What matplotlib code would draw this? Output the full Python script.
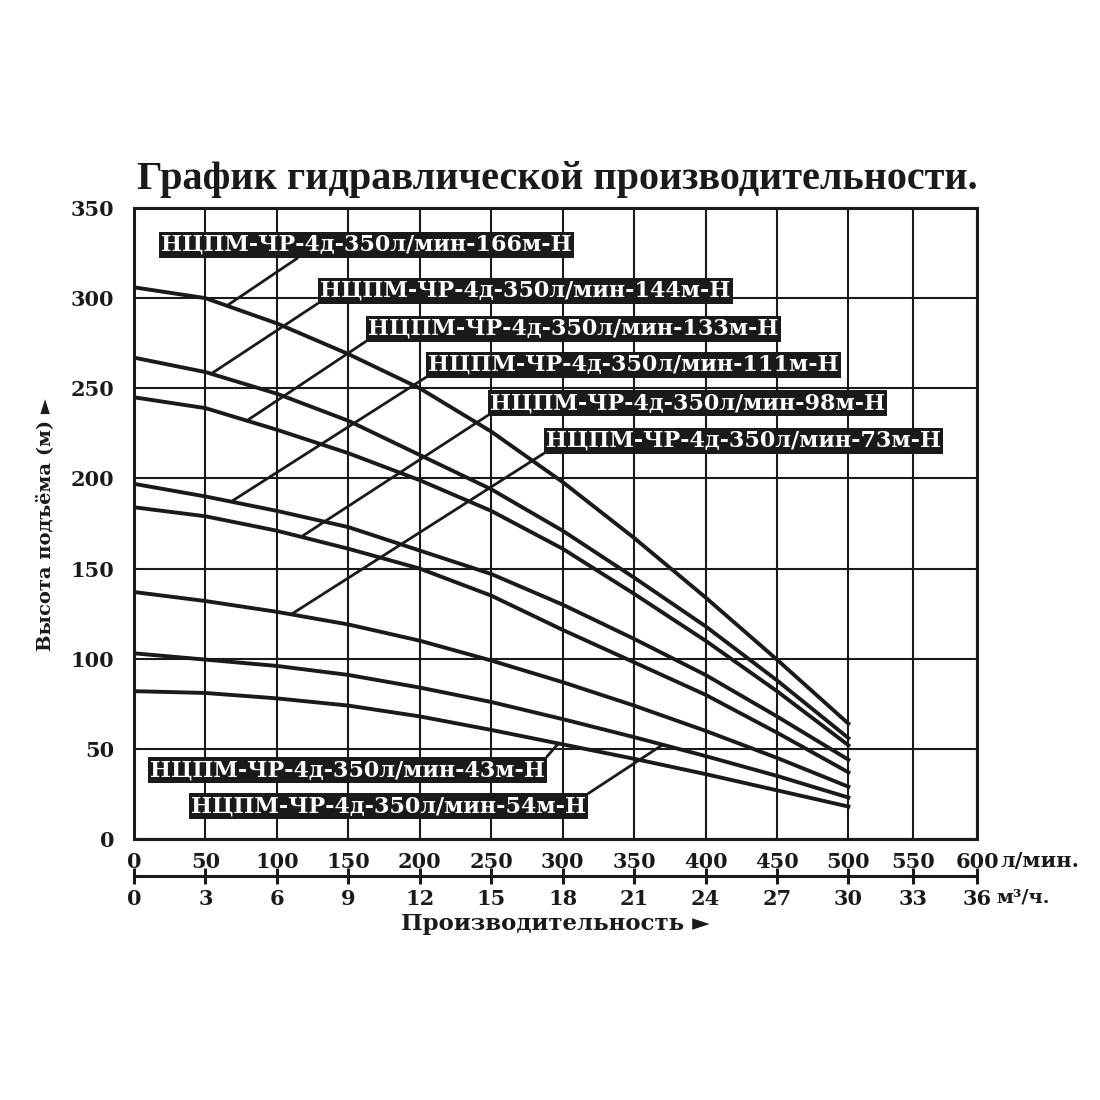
import numpy as np
import matplotlib
matplotlib.use('agg')
import matplotlib.pyplot as plt

# flow, l/min
q = [0, 50, 100, 150, 200, 250, 300, 350, 400, 450, 500]

# head, m
h_166 = [306, 300, 286, 269, 250, 226, 198, 167, 134, 99.5, 64]
h_144 = [267, 259, 247, 232, 213, 194, 171, 145, 118, 88, 56]
h_133 = [245, 239, 227, 214, 199, 182, 161, 136, 110, 82, 52]
h_111 = [197, 190, 182, 173, 160, 147, 130, 111, 91, 68, 44]
h_98 = [184, 179, 171, 161, 150, 135, 116, 98, 80, 59, 37]
h_73 = [137, 132, 126, 119, 110, 99, 87, 74, 60, 45, 29]
h_54 = [103, 99.5, 96, 91, 84, 76, 66.5, 56.5, 46, 35, 23]
h_43 = [82, 81, 78, 74, 68, 60.5, 52.5, 44.5, 36, 27, 18]

curves = [h_166, h_144, h_133, h_111, h_98, h_73, h_54, h_43]
names = ['НЦПМ-ЧР-4д-350л/мин-166м-Н', 'НЦПМ-ЧР-4д-350л/мин-144м-Н',
         'НЦПМ-ЧР-4д-350л/мин-133м-Н', 'НЦПМ-ЧР-4д-350л/мин-111м-Н',
         'НЦПМ-ЧР-4д-350л/мин-98м-Н', 'НЦПМ-ЧР-4д-350л/мин-73м-Н',
         'НЦПМ-ЧР-4д-350л/мин-54м-Н', 'НЦПМ-ЧР-4д-350л/мин-43м-Н']
# flow where each leader line touches its curve
anchor_q = [65, 54, 79, 68, 117, 110, 370, 297]

x_ticks = list(range(0, 601, 50))
y_ticks = list(range(0, 351, 50))
m3h_ticks = list(range(0, 37, 3))

# label boxes: left edge / vertical centre in pixels, leader start on the box
box_pos = [(158, 245), (317, 291), (365, 329), (425, 365),
           (487, 403), (543, 441), (188, 806), (147, 770)]
leader_rel = [(0.34, 0), (0, 0), (0, 0), (0, 0), (0, 0), (0, 0), (1, 1), (1, 1)]

SERIF = ['Liberation Serif', 'DejaVu Serif']
WIDE = ['DejaVu Serif', 'Liberation Serif']
plt.rcParams['font.family'] = SERIF
plt.rcParams['font.weight'] = 'bold'
INK = '#1a1a1a'

W = H = 1100
fig = plt.figure(figsize=(11, 11), dpi=100)


def fx(px):
    return px / W


def fy(py):
    return 1 - py / H


# the chart squeezes 500..600 l/min a bit
def fwd(x):
    x = np.asarray(x, dtype=float)
    return np.where(x <= 500, x, 500 + (x - 500) * 0.9)


def inv(x):
    x = np.asarray(x, dtype=float)
    return np.where(x <= 500, x, 500 + (x - 500) / 0.9)


ax = fig.add_axes([fx(134), fy(839), fx(977) - fx(134), fy(208) - fy(839)])
ax.set_xscale('function', functions=(fwd, inv))
ax.set_xlim(0, 600)
ax.set_ylim(0, 350)
ax.set_xticks(x_ticks)
ax.set_yticks(y_ticks)
ax.grid(True, color=INK, lw=1.5)
ax.set_axisbelow(True)
for s in ax.spines.values():
    s.set_linewidth(2.2)
    s.set_color(INK)
ax.tick_params(axis='both', length=0, labelsize=15, colors=INK)
ax.tick_params(axis='y', pad=14)
ax.tick_params(axis='x', pad=9)
for t in ax.get_xticklabels() + ax.get_yticklabels():
    t.set_family(WIDE)

for h in curves:
    ax.plot(q, h, color=INK, lw=2.8, solid_joinstyle='round', zorder=3)

for name, qa, h, (bx, by), rel in zip(names, anchor_q, curves, box_pos, leader_rel):
    ha_ = np.interp(qa, q, h)
    ax.annotate(name, xy=(qa, ha_), xycoords='data',
                xytext=(fx(bx + 3), fy(by)), textcoords='figure fraction',
                ha='left', va='center', fontsize=16, color='white',
                fontweight='bold', family=WIDE,
                bbox=dict(boxstyle='square,pad=0.1', fc=INK, ec='none'),
                arrowprops=dict(arrowstyle='-', color=INK, lw=2.0,
                                relpos=rel, shrinkA=0, shrinkB=0),
                zorder=5)

# second flow scale in m3/h
ax2 = fig.add_axes([fx(134), fy(876), fx(977) - fx(134), 0.0005])
ax2.set_xscale('function', functions=(fwd, inv))
ax2.set_xlim(0, 600)
ax2.set_xticks([v / 0.06 for v in m3h_ticks])
ax2.set_xticklabels([str(v) for v in m3h_ticks], family=WIDE)
ax2.set_yticks([])
for k in ['left', 'right', 'top']:
    ax2.spines[k].set_visible(False)
ax2.spines['bottom'].set_linewidth(2.2)
ax2.spines['bottom'].set_color(INK)
ax2.patch.set_alpha(0)
ax2.tick_params(axis='x', direction='inout', length=11, width=2.2,
                labelsize=15, colors=INK, pad=4)

fig.text(fx(1001), fy(861), 'л/мин.', fontsize=15, ha='left', va='center',
         color=INK, family=WIDE)
fig.text(fx(996), fy(898), 'м³/ч.', fontsize=14, ha='left', va='center',
         color=INK, family=WIDE)

fig.text(fx(557), fy(180), 'График гидравлической производительности.',
         fontsize=29, ha='center', va='center', color=INK)
fig.text(fx(555), fy(924), 'Производительность ►', fontsize=16.5,
         ha='center', va='center', color=INK, family=WIDE)
fig.text(fx(45), fy(525), 'Высота подъёма (м) ►', fontsize=14, rotation=90,
         ha='center', va='center', color=INK, family=WIDE)

fig.savefig('out.png', dpi=100, facecolor='white')
